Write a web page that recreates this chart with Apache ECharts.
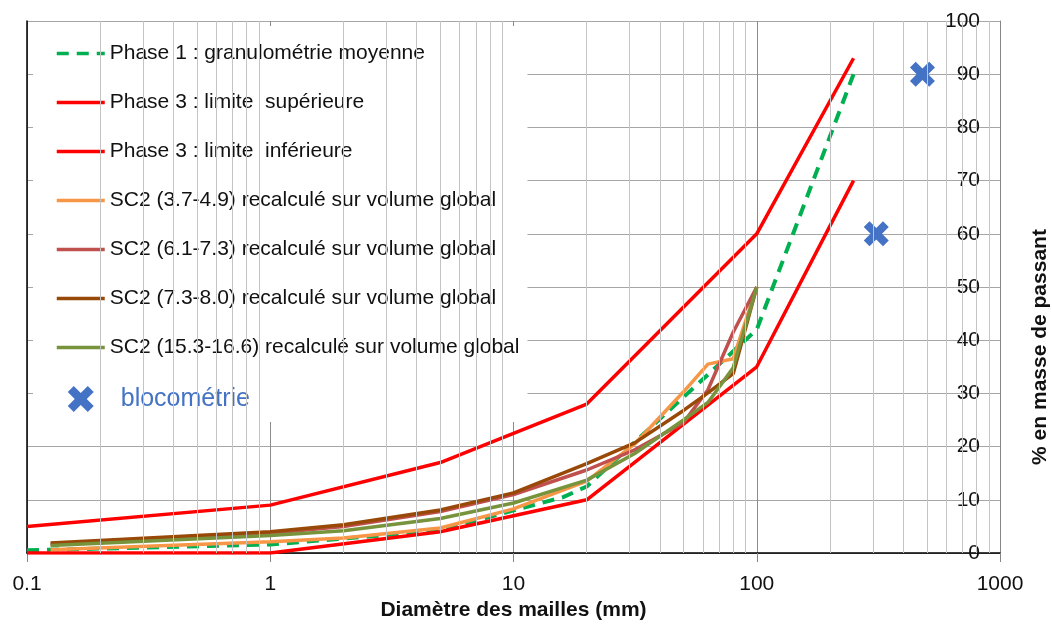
<!DOCTYPE html>
<html lang="fr">
<head>
<meta charset="UTF-8" />
<title>Courbes granulométriques</title>
<style>
  html, body { margin: 0; padding: 0; background: #fff; }
  #main { width: 1052px; height: 626px; }
</style>
</head>
<body>
<div id="main"></div>
<script src="https://cdn.jsdelivr.net/npm/echarts/dist/echarts.min.js"></script>
<script>
  // données
  var phase1X = [0.1, 1, 5, 10, 16, 20, 100, 250];
  var phase1Y = [0.5, 1.6, 4.2, 8, 10.5, 12.5, 42, 90];
  var supX = [0.1, 1, 5, 20, 100, 250];
  var supY = [5, 9, 17, 28, 60, 93];
  var infX = [0.1, 1, 5, 20, 100, 250];
  var infY = [0, 0, 4, 10, 35, 70];
  var tamis = [0.125, 1, 2, 5, 10, 20, 31.5, 50, 63, 80, 100];
  var sc2a = [0.6, 2.1, 2.8, 4.7, 8.3, 13.5, 20.5, 30.3, 35.5, 36.5, 50];
  var sc2b = [1.6, 3.7, 5, 7.8, 11, 15.6, 19.4, 24.5, 30.7, 41.5, 50];
  var sc2c = [1.9, 4.0, 5.3, 8.1, 11.3, 16.8, 20.7, 26.8, 30.1, 33.7, 50];
  var sc2d = [1.4, 3.3, 4.2, 6.5, 9.4, 13.7, 18.7, 25, 28.3, 34.8, 50];
  var blocX = [480, 310];
  var blocY = [90, 60];

  var names = [
    "Phase 1 : granulométrie moyenne",
    "Phase 3 : limite  supérieure",
    "Phase 3 : limite  inférieure",
    "SC2 (3.7-4.9) recalculé sur volume global",
    "SC2 (6.1-7.3) recalculé sur volume global",
    "SC2 (7.3-8.0) recalculé sur volume global",
    "SC2 (15.3-16.6) recalculé sur volume global",
    "blocométrie",
  ];

  function pairs(xs, ys) {
    return xs.map(function (x, i) {
      return [x, ys[i]];
    });
  }

  // lignes secondaires du quadrillage log (2..9 par décade)
  var minorLines = [];
  [0.1, 1, 10, 100].forEach(function (d) {
    for (var k = 2; k <= 9; k++) {
      minorLines.push({ xAxis: +(k * d).toPrecision(3) });
    }
  });

  var xPath =
    "path://M0,2.3 L2.3,0 L5,2.7 L7.7,0 L10,2.3 L7.3,5 L10,7.7 L7.7,10 L5,7.3 L2.3,10 L0,7.7 L2.7,5 Z";
  var font = "'Liberation Sans', Arial, sans-serif";

  var myChart = echarts.init(document.getElementById("main"));

  function lineSerie(name, data, color, type, width) {
    return {
      name: name,
      type: "line",
      data: data,
      symbol: "none",
      lineStyle: { color: color, width: width || 3.5, type: type || "solid" },
      itemStyle: { color: color },
    };
  }

  var option = {
    animation: false,
    textStyle: { fontFamily: font },
    grid: { left: 27, right: 52, top: 21, bottom: 73 },
    legend: {
      orient: "vertical",
      left: 33,
      top: 26,
      padding: [17, 8, 10, 22],
      backgroundColor: "#ffffff",
      itemWidth: 48,
      itemHeight: 26,
      itemGap: 28,
      selectedMode: false,
      itemStyle: { opacity: 0 },
      lineStyle: { width: 3.5 },
      textStyle: { fontSize: 21, color: "#111", fontFamily: font },
      data: names.slice(0, 7).map(function (n) {
        return { name: n };
      }).concat([
        {
          name: names[7],
          icon: xPath,
          itemStyle: { opacity: 1, color: "#4472C4" },
          textStyle: { color: "#4472C4", fontSize: 25, padding: [0, 0, 0, 11] },
        },
      ]),
    },
    xAxis: [
      {
        type: "log",
        logBase: 10,
        min: 0.1,
        max: 1000,
        name: "Diamètre des mailles (mm)",
        nameLocation: "middle",
        nameGap: 46,
        nameTextStyle: { fontSize: 21, fontWeight: "bold", color: "#111" },
        axisLine: { lineStyle: { color: "#868686", width: 1 } },
        axisTick: { show: true, length: 9, lineStyle: { color: "#868686" } },
        axisLabel: {
          margin: 21,
          fontSize: 21,
          color: "#111",
          formatter: function (v) {
            return String(parseFloat(Number(v).toPrecision(3)));
          },
        },
        splitLine: { show: true, lineStyle: { color: "#8c8c8c", width: 1 } },
      },
      {
        type: "log",
        logBase: 10,
        min: 0.1,
        max: 1000,
        position: "top",
        axisLine: { lineStyle: { color: "#000", width: 1.5 } },
        axisTick: { show: false },
        axisLabel: { show: false },
        splitLine: { show: false },
      },
    ],
    yAxis: [
      {
        type: "value",
        position: "right",
        min: 0,
        max: 100,
        interval: 10,
        axisLine: { show: true, lineStyle: { color: "#868686", width: 1 } },
        axisTick: { show: false },
        axisLabel: { inside: true, margin: 20, fontSize: 21, color: "#111" },
        splitLine: { show: true, lineStyle: { color: "#a6a6a6", width: 1 } },
      },
      {
        type: "value",
        position: "left",
        min: 0,
        max: 100,
        interval: 10,
        axisLine: { show: true, lineStyle: { color: "#000", width: 1.5 } },
        axisTick: { show: false },
        axisLabel: { show: false },
        splitLine: { show: false },
      },
    ],
    graphic: [
      {
        type: "text",
        x: 1040,
        y: 347,
        rotation: Math.PI / 2,
        style: {
          text: "% en masse de passant",
          font: "bold 21px " + font,
          fill: "#111",
          align: "center",
          verticalAlign: "middle",
        },
      },
    ],
    series: [
      {
        name: "_grille",
        type: "line",
        data: [],
        z: 1,
        silent: true,
        markLine: {
          silent: true,
          symbol: ["none", "none"],
          label: { show: false },
          lineStyle: { color: "#c4c4c4", width: 1, type: "solid" },
          emphasis: { disabled: true },
          data: minorLines,
        },
      },
      lineSerie(names[0], pairs(phase1X, phase1Y), "#00B050", [12, 8], 4),
      lineSerie(names[1], pairs(supX, supY), "#FF0000"),
      lineSerie(names[2], pairs(infX, infY), "#FF0000"),
      lineSerie(names[3], pairs(tamis, sc2a), "#F79646"),
      lineSerie(names[4], pairs(tamis, sc2b), "#C0504D"),
      lineSerie(names[5], pairs(tamis, sc2c), "#984807"),
      lineSerie(names[6], pairs(tamis, sc2d), "#77933C"),
      {
        name: names[7],
        type: "scatter",
        data: pairs(blocX, blocY),
        symbol: xPath,
        symbolSize: 25,
        symbolKeepAspect: true,
        itemStyle: { color: "#4472C4", opacity: 1 },
      },
    ],
  };
  myChart.setOption(option);
</script>
</body>
</html>
